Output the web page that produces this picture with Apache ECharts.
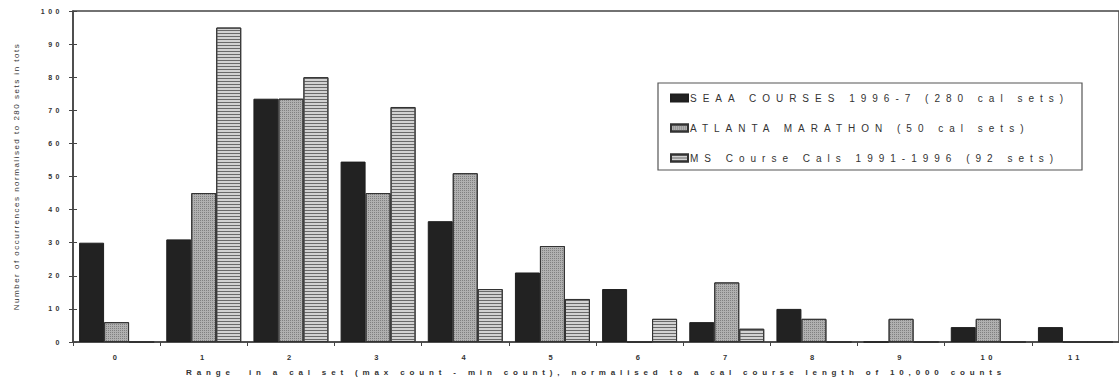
<!DOCTYPE html>
<html>
<head>
<meta charset="utf-8">
<script src="https://cdn.jsdelivr.net/npm/echarts@6/dist/echarts.min.js"></script>
<style>
	html, body { margin: 0; padding: 0; background: #fff; }
	#chart { width: 1119px; height: 386px; }
	/* the scanned chart uses widely spaced lettering */
	#chart text[style*="lsLeg"] { letter-spacing: 6px; }
	#chart text[style*="lsX"] { letter-spacing: 4.85px; }
	#chart text[style*="lsTick"] { letter-spacing: 3.5px; }
	#chart text[style*="lsY"] { letter-spacing: 1.5px; }
</style>
</head>
<body>
<div id="chart"></div>
<script>
const categories = ['0', '1', '2', '3', '4', '5', '6', '7', '8', '9', '10', '11']
const seaaCourses = [30, 31, 73.5, 54.5, 36.5, 21, 16, 6, 10, 0, 4.5, 4.5]
const atlantaMarathon = [6, 45, 73.5, 45, 51, 29, 0, 18, 7, 7, 7, 0]
const msCourseCals = [0, 95, 80, 71, 16, 13, 7, 4, 0, 0, 0, 0]
const seriesNames = [
	'SEAA COURSES 1996-7 (280 cal sets)',
	'ATLANTA MARATHON (50 cal sets)',
	'MS Course Cals 1991-1996 (92 sets)',
]

const baseFont = '"Liberation Sans", Arial, sans-serif'
const ink = '#333'

const chart = echarts.init(document.getElementById('chart'), null, { renderer: 'svg' })

const yAxisBase = {
	type: 'value',
	min: 0,
	max: 100,
	interval: 10,
	splitLine: { show: false },
}

const option = {
	animation: false,
	backgroundColor: '#fff',
	grid: {
		left: 73,
		right: -8,
		top: 11,
		bottom: 44,
		show: true,
		borderColor: '#444',
		borderWidth: 1.5,
	},
	legend: {
		orient: 'vertical',
		left: 670,
		top: 93,
		padding: 0,
		itemWidth: 17,
		itemHeight: 7,
		itemGap: 20,
		icon: 'rect',
		data: seriesNames,
		textStyle: {
			color: ink,
			fontSize: 10,
			fontFamily: 'lsLeg, ' + baseFont,
			padding: [0, 0, 0, -3],
		},
	},
	graphic: [
		{
			type: 'rect',
			z: -1,
			shape: { x: 658, y: 83, width: 424, height: 87 },
			style: { fill: '#fff', stroke: '#555', lineWidth: 1.2 },
		},
	],
	xAxis: {
		type: 'category',
		data: categories,
		name: 'Range  in a cal set (max count - min count), normalised to a cal course length of 10,000 counts',
		nameLocation: 'middle',
		nameGap: 26,
		nameTextStyle: {
			color: ink,
			fontSize: 8,
			fontWeight: 'bold',
			fontFamily: 'lsX, ' + baseFont,
		},
		axisLine: { lineStyle: { color: '#444', width: 1.5 } },
		axisTick: { show: true, length: 4, lineStyle: { color: '#444' } },
		axisLabel: {
			margin: 11,
			color: ink,
			fontSize: 7.5,
			fontWeight: 'bold',
			fontFamily: 'lsTick, ' + baseFont,
		},
	},
	yAxis: [
		{
			...yAxisBase,
			name: 'Number of occurrences normalised to 280 sets in tots',
			nameLocation: 'middle',
			nameGap: 53,
			nameTextStyle: {
				color: ink,
				fontSize: 8,
				fontFamily: 'lsY, ' + baseFont,
			},
			axisLine: { show: true, lineStyle: { color: '#444', width: 1.5 } },
			axisTick: { show: true, length: 4, lineStyle: { color: '#444' } },
			axisLabel: {
				margin: 10,
				color: ink,
				fontSize: 7,
				fontWeight: 'bold',
				fontFamily: 'lsTick, ' + baseFont,
			},
		},
		{
			...yAxisBase,
			position: 'left',
			axisLine: { show: false },
			axisTick: { show: true, inside: true, length: 4, lineStyle: { color: '#444' } },
			axisLabel: { show: false },
		},
	],
	series: [
		{
			name: seriesNames[0],
			type: 'bar',
			barGap: 0,
			barCategoryGap: '14%',
			data: seaaCourses,
			itemStyle: { color: '#222', borderColor: '#1e1e1e', borderWidth: 1 },
		},
		{
			name: seriesNames[1],
			type: 'bar',
			data: atlantaMarathon,
			itemStyle: {
				color: '#b0b0b0',
				borderColor: '#333',
				borderWidth: 1,
				decal: {
					symbol: 'rect',
					symbolSize: 1,
					dashArrayX: [1, 1],
					dashArrayY: [1, 1],
					color: '#808080',
				},
			},
		},
		{
			name: seriesNames[2],
			type: 'bar',
			data: msCourseCals,
			itemStyle: {
				color: '#d2d2d2',
				borderColor: '#333',
				borderWidth: 1,
				decal: {
					symbol: 'rect',
					symbolSize: 1,
					dashArrayX: [1, 0],
					dashArrayY: [1, 2],
					color: '#6a6a6a',
				},
			},
		},
	],
}

chart.setOption(option)
</script>
</body>
</html>
